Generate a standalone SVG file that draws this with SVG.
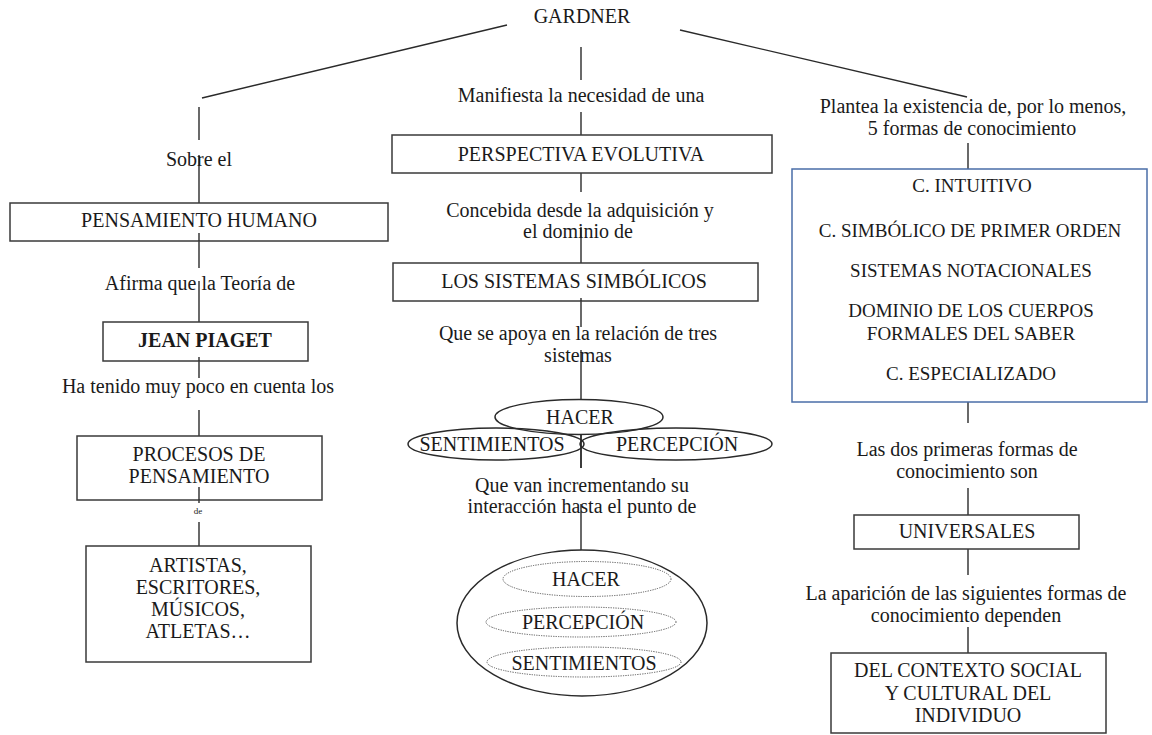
<svg xmlns="http://www.w3.org/2000/svg" width="1152" height="735" viewBox="0 0 1152 735">
<style>
text{font-family:"Liberation Serif","Times New Roman",serif;font-size:20px;fill:#1a1a1a;text-anchor:middle}
.box{fill:#fff;stroke:#3a3a3a;stroke-width:1.5}
.blue{fill:#fff;stroke:#4a6ea8;stroke-width:1.5}
.ell{fill:none;stroke:#2a2a2a;stroke-width:1.5}
.dot{fill:none;stroke:#555;stroke-width:1;stroke-dasharray:1.2 1.2}
.ln{stroke:#2a2a2a;stroke-width:1.4;fill:none}
.sm{font-size:19px}
.b{font-weight:bold}
.tiny{font-size:9px}
</style>
<rect width="1152" height="735" fill="#fff"/>
<g id="connectors">
<line class="ln" x1="507" y1="25" x2="202" y2="98"/>
<line class="ln" x1="680" y1="30" x2="967" y2="97"/>
<line class="ln" x1="199" y1="107" x2="199" y2="140"/>
<line class="ln" x1="199" y1="155" x2="199" y2="203"/>
<line class="ln" x1="199" y1="233" x2="199" y2="268"/>
<line class="ln" x1="199" y1="281" x2="199" y2="322"/>
<line class="ln" x1="199" y1="357" x2="199" y2="378"/>
<line class="ln" x1="199" y1="410" x2="199" y2="436"/>
<line class="ln" x1="199" y1="487" x2="199" y2="503"/>
<line class="ln" x1="199" y1="522" x2="199" y2="546"/>
<line class="ln" x1="581" y1="47" x2="581" y2="80"/>
<line class="ln" x1="581" y1="112" x2="581" y2="135"/>
<line class="ln" x1="581" y1="173" x2="581" y2="192"/>
<line class="ln" x1="581" y1="227" x2="581" y2="263"/>
<line class="ln" x1="581" y1="298" x2="581" y2="327"/>
<line class="ln" x1="581" y1="350" x2="581" y2="400"/>
<line class="ln" x1="581" y1="435" x2="581" y2="468"/>
<line class="ln" x1="581" y1="504" x2="581" y2="550"/>
<line class="ln" x1="968" y1="143" x2="968" y2="169"/>
<line class="ln" x1="968" y1="402" x2="968" y2="423"/>
<line class="ln" x1="968" y1="488" x2="968" y2="515"/>
<line class="ln" x1="968" y1="549" x2="968" y2="575"/>
<line class="ln" x1="968" y1="627" x2="968" y2="653"/>
</g>
<g id="gardner"><text x="582" y="23">GARDNER</text></g>
<g id="lbl-sobre"><text x="199" y="166">Sobre el</text></g>
<g id="pensamiento-humano">
<rect class="box" x="10" y="203" width="378" height="38"/>
<line class="ln" x1="199" y1="233" x2="199" y2="241"/>
<text x="199" y="227">PENSAMIENTO HUMANO</text>
</g>
<g id="lbl-afirma"><text x="200" y="290">Afirma que la Teoría de</text></g>
<g id="jean-piaget">
<rect class="box" x="103" y="322" width="205" height="39"/>
<line class="ln" x1="199" y1="357" x2="199" y2="361"/>
<text class="b" x="205" y="347">JEAN PIAGET</text>
</g>
<g id="lbl-ha-tenido"><text x="198" y="393">Ha tenido muy poco en cuenta los</text></g>
<g id="procesos">
<rect class="box" x="77" y="436" width="245" height="64"/>
<line class="ln" x1="199" y1="487" x2="199" y2="500"/>
<text x="199" y="461">PROCESOS DE</text>
<text x="199" y="483">PENSAMIENTO</text>
</g>
<g id="lbl-de"><text class="tiny" x="198" y="514">de</text></g>
<g id="artistas">
<rect class="box" x="86" y="546" width="225" height="116"/>
<text x="198" y="572">ARTISTAS,</text>
<text x="198" y="594">ESCRITORES,</text>
<text x="198" y="616">MÚSICOS,</text>
<text x="198" y="638">ATLETAS…</text>
</g>
<g id="lbl-manifiesta"><text x="581" y="102">Manifiesta la necesidad de una</text></g>
<g id="perspectiva">
<rect class="box" x="392" y="135" width="380" height="38"/>
<text x="581" y="161">PERSPECTIVA EVOLUTIVA</text>
</g>
<g id="lbl-concebida">
<text x="580" y="217">Concebida desde la adquisición y</text>
<text x="578" y="238">el dominio de</text>
</g>
<g id="sistemas-simbolicos">
<rect class="box" x="393" y="263" width="365" height="38"/>
<line class="ln" x1="581" y1="298" x2="581" y2="301"/>
<text x="574" y="288">LOS SISTEMAS SIMBÓLICOS</text>
</g>
<g id="lbl-apoya">
<text x="578" y="340">Que se apoya en la relación de tres</text>
<text x="578" y="362">sistemas</text>
</g>
<g id="tres-sistemas">
<ellipse class="ell" cx="579" cy="417" rx="84" ry="17.5"/>
<ellipse class="ell" cx="496" cy="444" rx="88" ry="16"/>
<ellipse class="ell" cx="676" cy="444" rx="96" ry="16"/>
<line class="ln" x1="581" y1="435" x2="581" y2="468"/>
<text x="580" y="424">HACER</text>
<text x="492" y="451">SENTIMIENTOS</text>
<text x="677" y="451">PERCEPCIÓN</text>
</g>
<g id="lbl-incrementando">
<text x="582" y="492">Que van incrementando su</text>
<text x="582" y="513">interacción hasta el punto de</text>
</g>
<g id="integracion">
<ellipse class="ell" cx="582" cy="623" rx="125" ry="73"/>
<ellipse class="dot" cx="587" cy="579" rx="84" ry="17.5"/>
<ellipse class="dot" cx="581" cy="622" rx="95" ry="15"/>
<ellipse class="dot" cx="584" cy="662" rx="97" ry="15"/>
<text x="586" y="586">HACER</text>
<text x="583" y="629">PERCEPCIÓN</text>
<text x="584" y="670">SENTIMIENTOS</text>
</g>
<g id="lbl-plantea">
<text x="973" y="113">Plantea la existencia de, por lo menos,</text>
<text x="972" y="135">5 formas de conocimiento</text>
</g>
<g id="formas-conocimiento">
<rect class="blue" x="792" y="169" width="355" height="233"/>
<text class="sm" x="972" y="192">C. INTUITIVO</text>
<text class="sm" x="970" y="237">C. SIMBÓLICO DE PRIMER ORDEN</text>
<text class="sm" x="971" y="277">SISTEMAS NOTACIONALES</text>
<text class="sm" x="971" y="317">DOMINIO DE LOS CUERPOS</text>
<text class="sm" x="971" y="340">FORMALES DEL SABER</text>
<text class="sm" x="971" y="380">C. ESPECIALIZADO</text>
</g>
<g id="lbl-dos-primeras">
<text x="967" y="456">Las dos primeras formas de</text>
<text x="967" y="478">conocimiento son</text>
</g>
<g id="universales">
<rect class="box" x="854" y="515" width="225" height="34"/>
<text x="967" y="538">UNIVERSALES</text>
</g>
<g id="lbl-aparicion">
<text x="966" y="600">La aparición de las siguientes formas de</text>
<text x="966" y="622">conocimiento dependen</text>
</g>
<g id="contexto">
<rect class="box" x="831" y="653" width="275" height="80"/>
<text x="968" y="677">DEL CONTEXTO SOCIAL</text>
<text x="968" y="700">Y CULTURAL DEL</text>
<text x="968" y="722">INDIVIDUO</text>
</g>
</svg>
